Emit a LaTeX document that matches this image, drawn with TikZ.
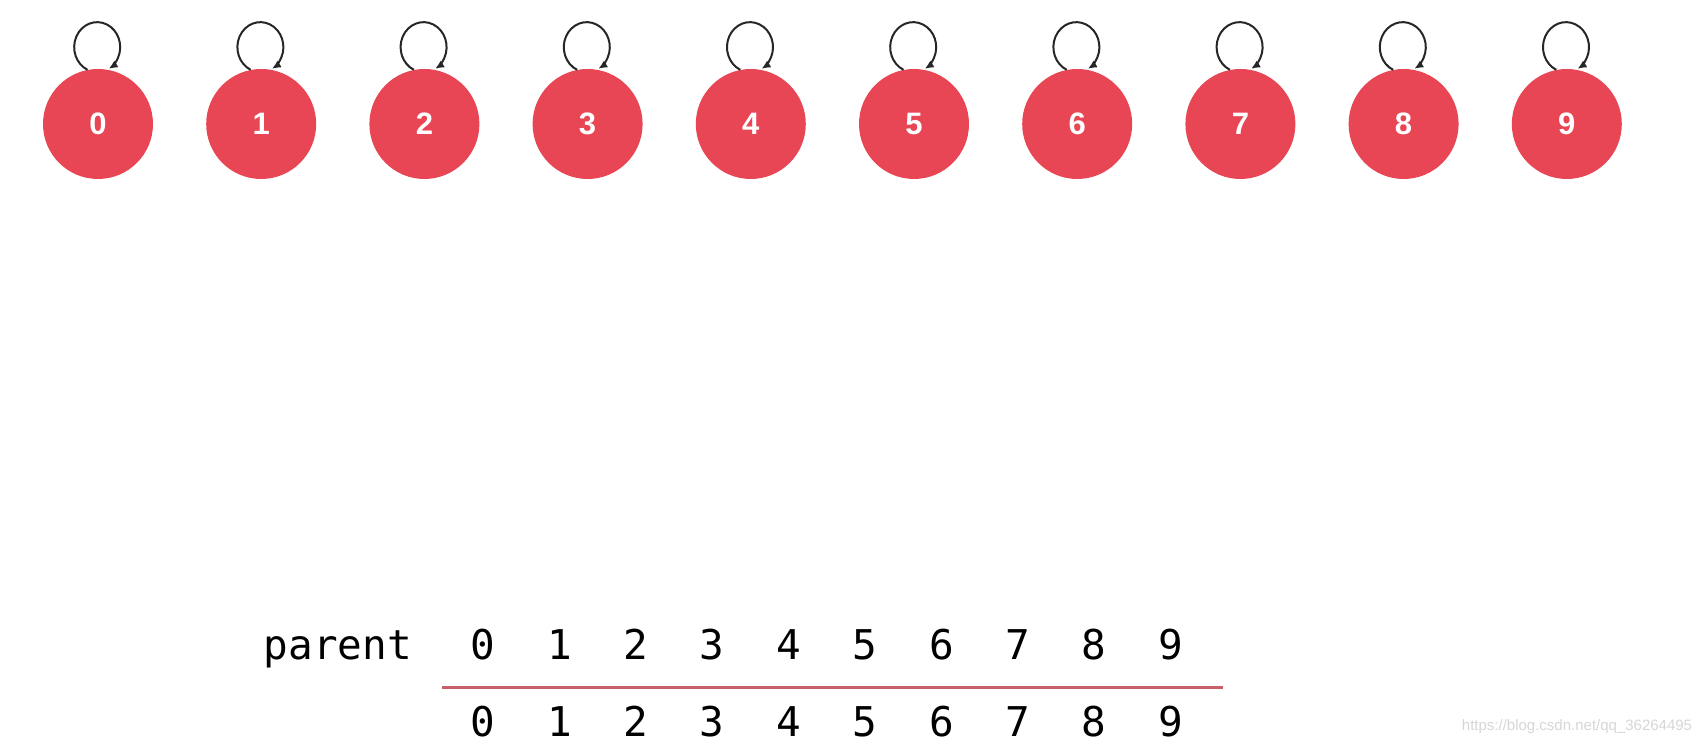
\documentclass[tikz,border=0pt]{standalone}
\usepackage{fontspec}
\setsansfont{Liberation Sans}
\setmonofont{DejaVu Sans Mono}
\usetikzlibrary{arrows.meta}
\definecolor{nodered}{RGB}{232,70,84}
\definecolor{linered}{RGB}{200,96,108}
\definecolor{markgray}{RGB}{214,214,214}

\begin{document}
\begin{tikzpicture}[x=1pt,y=1pt,
    vertex/.style={circle,fill=nodered,minimum size=110pt,inner sep=0pt,text=white,
        font=\sffamily\bfseries\fontsize{31}{31}\selectfont},
    selfloop/.style={line width=2pt,black!85,-{Latex[length=9pt,width=8pt]}},
    cell/.style={anchor=base,inner sep=0pt,font=\ttfamily\fontsize{41}{41}\selectfont}]
    \useasboundingbox (0,0) rectangle (1708,746);
    % nodes, each pointing to itself
    \foreach \i in {0,...,9} {
        \node[vertex] (v\i) at (98+163.2*\i,622) {\i};
        \draw[selfloop] (v\i.101) arc[start angle=245,end angle=-60,x radius=23,y radius=25];
    }
    % parent array
    \node[cell,anchor=base east] (parent) at (412,86) {parent};
    \foreach \i in {0,...,9} {
        \node[cell] (p\i) at (483+76.4*\i,86) {\i};
        \node[cell] (q\i) at (483+76.4*\i,9) {\i};
    }
    \draw[linered,line width=3pt] (442,58) -- (1223,58);
    \node[text=markgray,font=\sffamily\fontsize{15}{15}\selectfont] (mark) at (1577,19) {https://blog.csdn.net/qq\_36264495};
\end{tikzpicture}
\end{document}
